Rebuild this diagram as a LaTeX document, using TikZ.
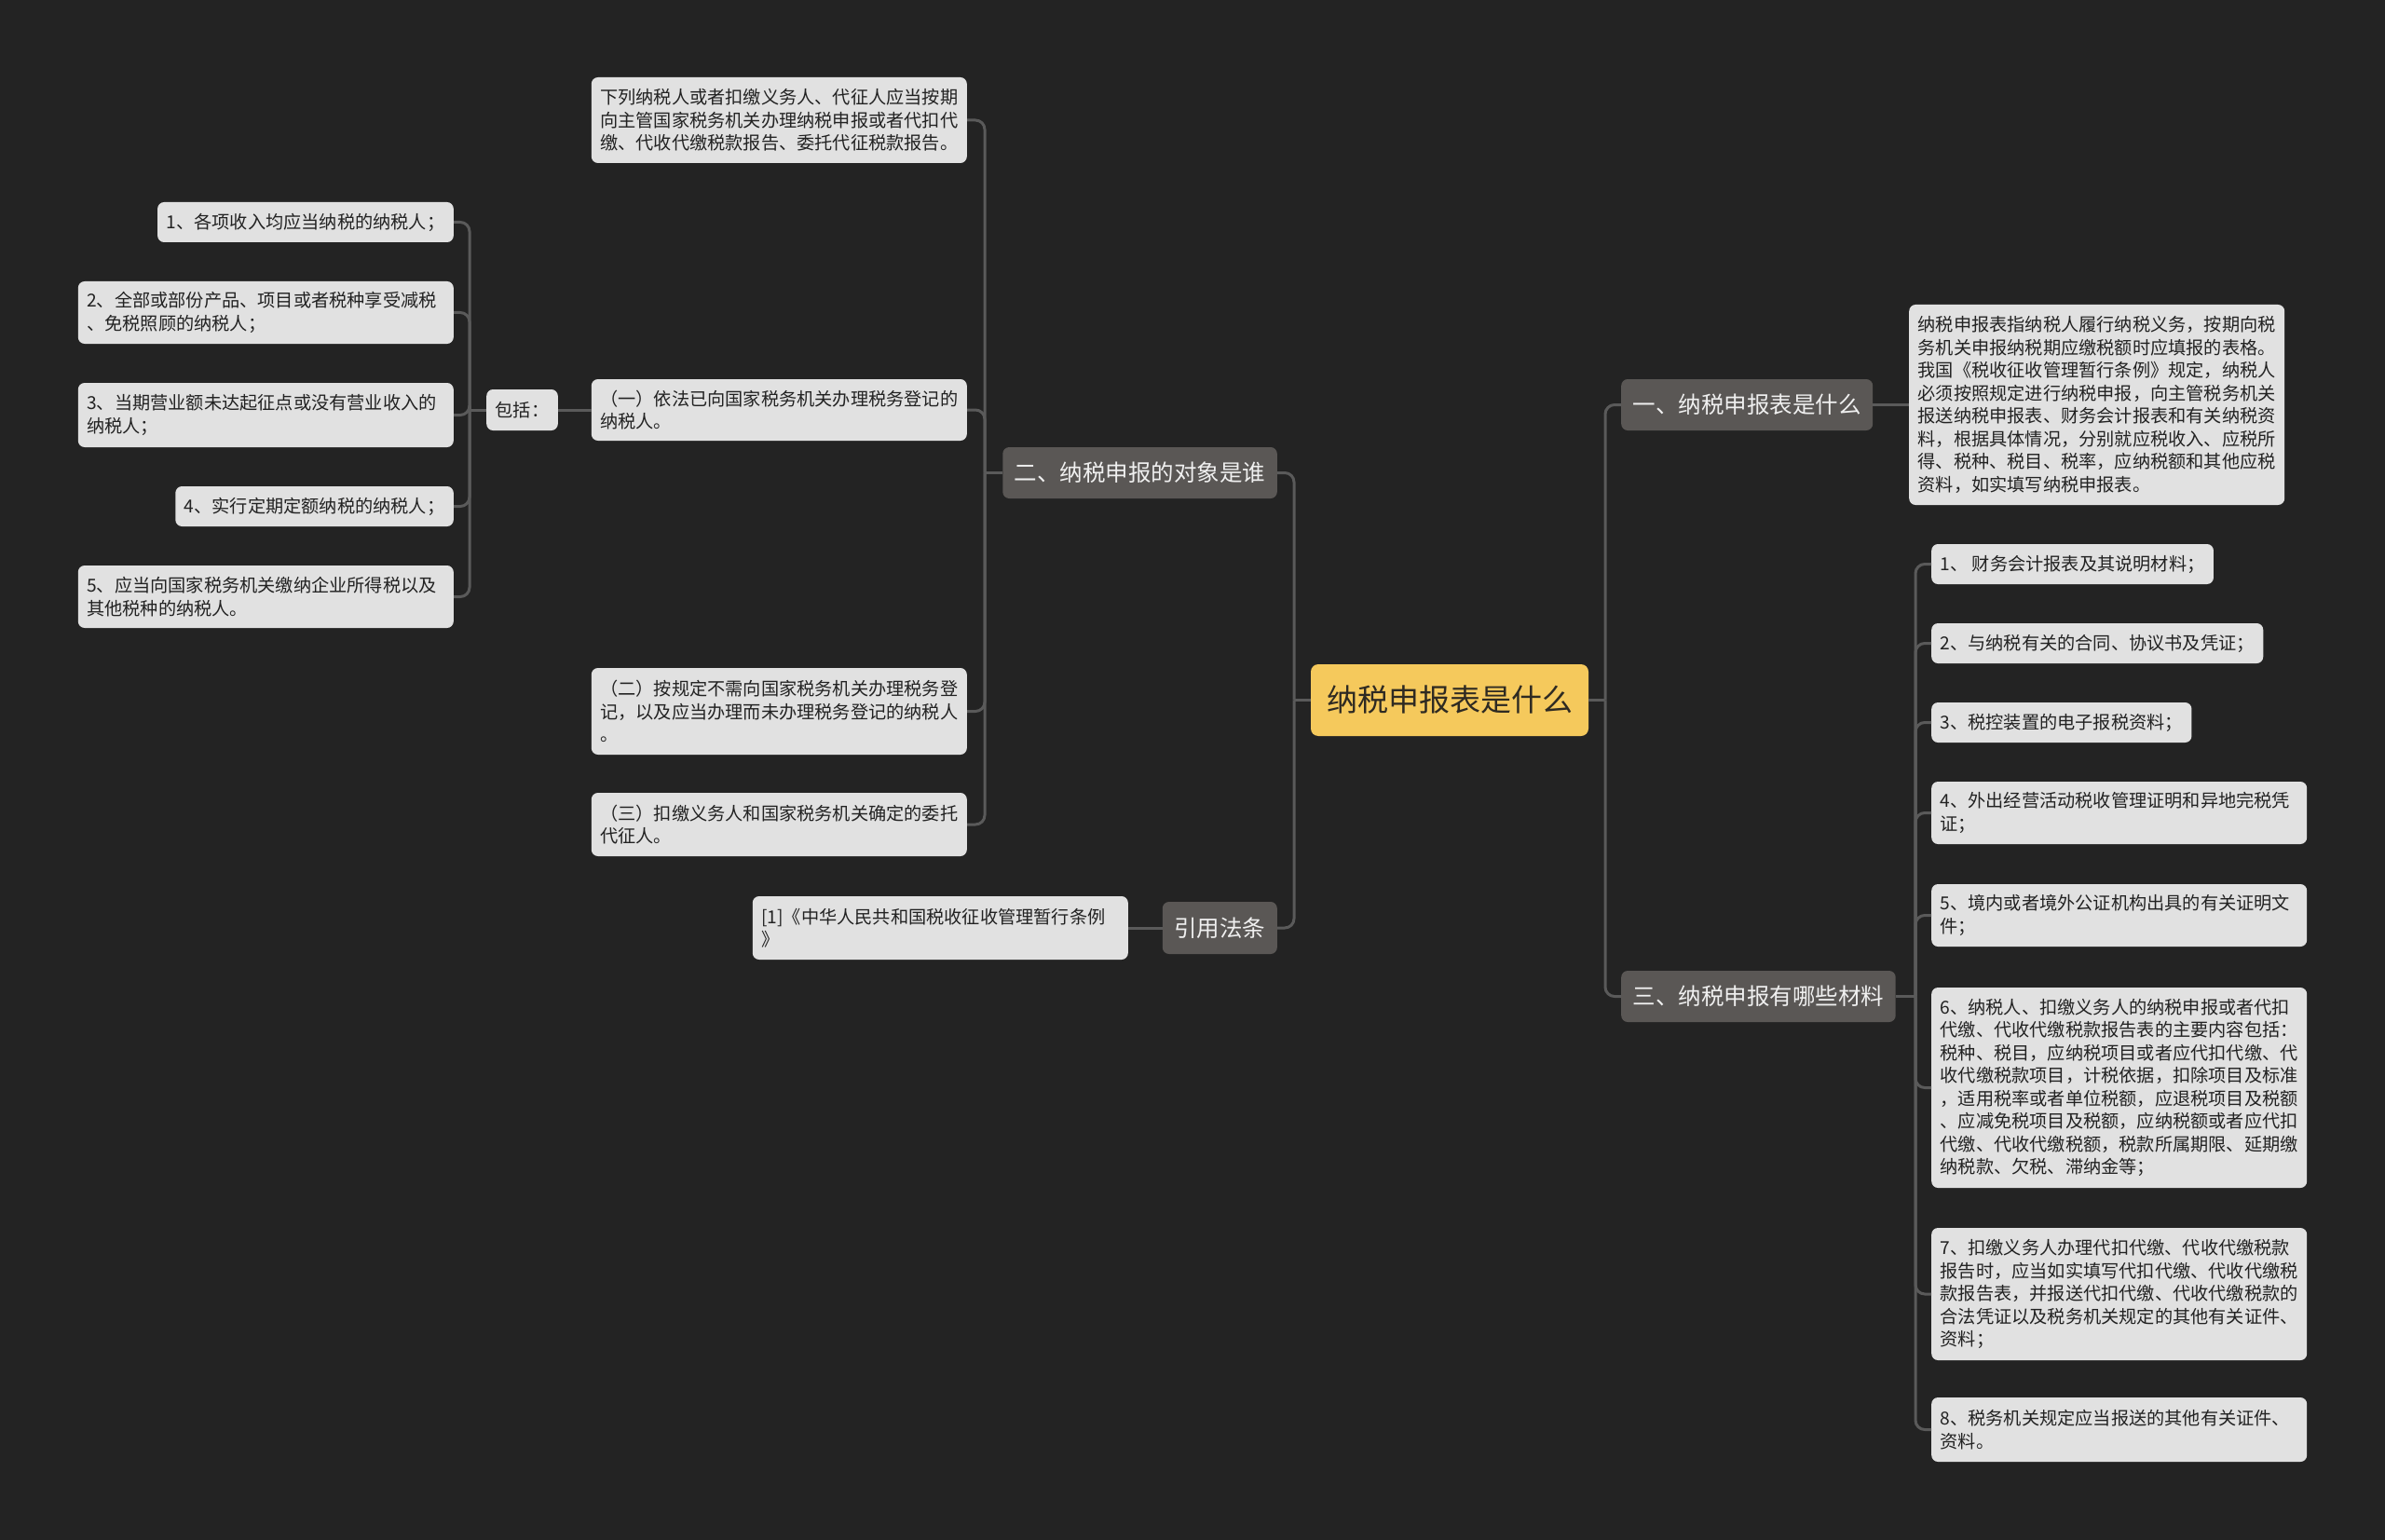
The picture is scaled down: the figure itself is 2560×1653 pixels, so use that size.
\documentclass[tikz,border=0pt]{standalone}
\usepackage{fontspec}
\setmainfont{Noto Sans CJK SC}
\definecolor{bgc}{HTML}{232323}
\definecolor{linec}{HTML}{5A5A5A}
\definecolor{lvlc}{HTML}{5A5755}
\definecolor{leafc}{HTML}{E1E1E1}
\definecolor{rootc}{HTML}{F5C95C}
\definecolor{leaftext}{HTML}{222222}
\definecolor{lvltext}{HTML}{F0F0F0}
\definecolor{roottext}{HTML}{2E2A22}
\newcommand{\leaffont}{\fontsize{19.2}{24.5}\selectfont}
\newcommand{\lvlfont}{\fontsize{24.5}{30}\selectfont}
\newcommand{\rootfont}{\fontsize{33}{40}\selectfont}
\tikzset{
  leaf/.style={fill=leafc, rounded corners=7pt, inner xsep=9.5pt, inner ysep=0pt,
    align=left, font=\leaffont, text=leaftext, minimum height=43pt},
  wide/.style={text width=384pt},
  lvl/.style={fill=lvlc, rounded corners=7pt, inner xsep=12.5pt, inner ysep=0pt,
    font=\lvlfont, text=lvltext, minimum height=55pt},
  rootbox/.style={fill=rootc, rounded corners=8pt, inner xsep=17pt, inner ysep=0pt,
    font=\rootfont, text=roottext, minimum height=77pt, minimum width=298pt},
  conn/.style={draw=linec, line width=3pt, rounded corners=10pt},
}
\begin{document}
\begin{tikzpicture}[x=1pt,y=-1pt]
\fill[bgc] (0,0) rectangle (2560,1653);
\useasboundingbox (0,0) rectangle (2560,1653);

% root
\node[rootbox] (root) at (1556,751.5) {纳税申报表是什么};

% level 1
\node[lvl, anchor=east] (er) at (1371,507.5) {二、纳税申报的对象是谁};
\node[lvl, anchor=east, minimum height=56pt] (yy) at (1371,996) {引用法条};
\node[lvl, anchor=west] (yi) at (1740,434.5) {一、纳税申报表是什么};
\node[lvl, anchor=west] (san) at (1740,1069.5) {三、纳税申报有哪些材料};

% children of er
\node[leaf, wide, anchor=east, minimum height=92pt] (c1) at (1038,129) {下列纳税人或者扣缴义务人、代征人应当按期\\向主管国家税务机关办理纳税申报或者代扣代\\缴、代收代缴税款报告、委托代征税款报告。};
\node[leaf, wide, anchor=east, minimum height=66pt] (c2) at (1038,440) {（一）依法已向国家税务机关办理税务登记的\\纳税人。};
\node[leaf, wide, anchor=east, minimum height=93pt] (c3) at (1038,763.5) {（二）按规定不需向国家税务机关办理税务登\\记，以及应当办理而未办理税务登记的纳税人\\。};
\node[leaf, wide, anchor=east, minimum height=68pt] (c4) at (1038,885) {（三）扣缴义务人和国家税务机关确定的委托\\代征人。};

% bao kuo
\node[leaf, anchor=east, minimum height=44pt] (bk) at (599,440) {包括：};
\node[leaf, anchor=east] (L1) at (487,238.5) {1、各项收入均应当纳税的纳税人；};
\node[leaf, wide, anchor=east, minimum height=67pt] (L2) at (487,335.5) {2、全部或部份产品、项目或者税种享受减税\\、免税照顾的纳税人；};
\node[leaf, wide, anchor=east, minimum height=69pt] (L3) at (487,445.5) {3、当期营业额未达起征点或没有营业收入的\\纳税人；};
\node[leaf, anchor=east] (L4) at (487,543.5) {4、实行定期定额纳税的纳税人；};
\node[leaf, wide, anchor=east, minimum height=67pt] (L5) at (487,640.5) {5、应当向国家税务机关缴纳企业所得税以及\\其他税种的纳税人。};

% reference
\node[leaf, wide, anchor=east, minimum height=68pt] (ref) at (1211,996) {[1]《中华人民共和国税收征收管理暂行条例\\》};

% definition
\node[leaf, wide, anchor=west, minimum height=215pt] (def) at (2049,434.5) {纳税申报表指纳税人履行纳税义务，按期向税\\务机关申报纳税期应缴税额时应填报的表格。\\我国《税收征收管理暂行条例》规定，纳税人\\必须按照规定进行纳税申报，向主管税务机关\\报送纳税申报表、财务会计报表和有关纳税资\\料，根据具体情况，分别就应税收入、应税所\\得、税种、税目、税率，应纳税额和其他应税\\资料，如实填写纳税申报表。};

% materials
\node[leaf, anchor=west] (R1) at (2073,605.5) {1、 财务会计报表及其说明材料；};
\node[leaf, anchor=west] (R2) at (2073,690.5) {2、与纳税有关的合同、协议书及凭证；};
\node[leaf, anchor=west] (R3) at (2073,775.5) {3、税控装置的电子报税资料；};
\node[leaf, wide, anchor=west, minimum height=67pt] (R4) at (2073,872.5) {4、外出经营活动税收管理证明和异地完税凭\\证；};
\node[leaf, wide, anchor=west, minimum height=67pt] (R5) at (2073,982.5) {5、境内或者境外公证机构出具的有关证明文\\件；};
\node[leaf, wide, anchor=west, minimum height=215pt] (R6) at (2073,1167.5) {6、纳税人、扣缴义务人的纳税申报或者代扣\\代缴、代收代缴税款报告表的主要内容包括：\\税种、税目，应纳税项目或者应代扣代缴、代\\收代缴税款项目，计税依据，扣除项目及标准\\，适用税率或者单位税额，应退税项目及税额\\、应减免税项目及税额，应纳税额或者应代扣\\代缴、代收代缴税额，税款所属期限、延期缴\\纳税款、欠税、滞纳金等；};
\node[leaf, wide, anchor=west, minimum height=142pt] (R7) at (2073,1389) {7、扣缴义务人办理代扣代缴、代收代缴税款\\报告时，应当如实填写代扣代缴、代收代缴税\\款报告表，并报送代扣代缴、代收代缴税款的\\合法凭证以及税务机关规定的其他有关证件、\\资料；};
\node[leaf, wide, anchor=west, minimum height=69pt] (R8) at (2073,1534.5) {8、税务机关规定应当报送的其他有关证件、\\资料。};

% bus coordinates
\coordinate (rootL) at (1389,751.5);
\coordinate (rootR) at (1723,751.5);
\coordinate (erB) at (1057,507.5);
\coordinate (bkB) at (504,440);
\coordinate (sanB) at (2056,1069.5);

% connectors
\draw[conn] (root.west) -- (rootL);
\draw[conn] (rootL) |- (er.east);
\draw[conn] (rootL) |- (yy.east);
\draw[conn] (root.east) -- (rootR);
\draw[conn] (rootR) |- (yi.west);
\draw[conn] (rootR) |- (san.west);

\draw[conn] (er.west) -- (erB);
\draw[conn] (erB) |- (c1.east);
\draw[conn] (erB) |- (c2.east);
\draw[conn] (erB) |- (c3.east);
\draw[conn] (erB) |- (c4.east);

\draw[conn] (c2.west) -- (bk.east);
\draw[conn] (bk.west) -- (bkB);
\draw[conn] (bkB) |- (L1.east);
\draw[conn] (bkB) |- (L2.east);
\draw[conn] (bkB) |- (L3.east);
\draw[conn] (bkB) |- (L4.east);
\draw[conn] (bkB) |- (L5.east);

\draw[conn] (yy.west) -- (ref.east);
\draw[conn] (yi.east) -- (def.west);

\draw[conn] (san.east) -- (sanB);
\draw[conn] (sanB) |- (R1.west);
\draw[conn] (sanB) |- (R2.west);
\draw[conn] (sanB) |- (R3.west);
\draw[conn] (sanB) |- (R4.west);
\draw[conn] (sanB) |- (R5.west);
\draw[conn] (sanB) |- (R6.west);
\draw[conn] (sanB) |- (R7.west);
\draw[conn] (sanB) |- (R8.west);
\end{tikzpicture}
\end{document}
